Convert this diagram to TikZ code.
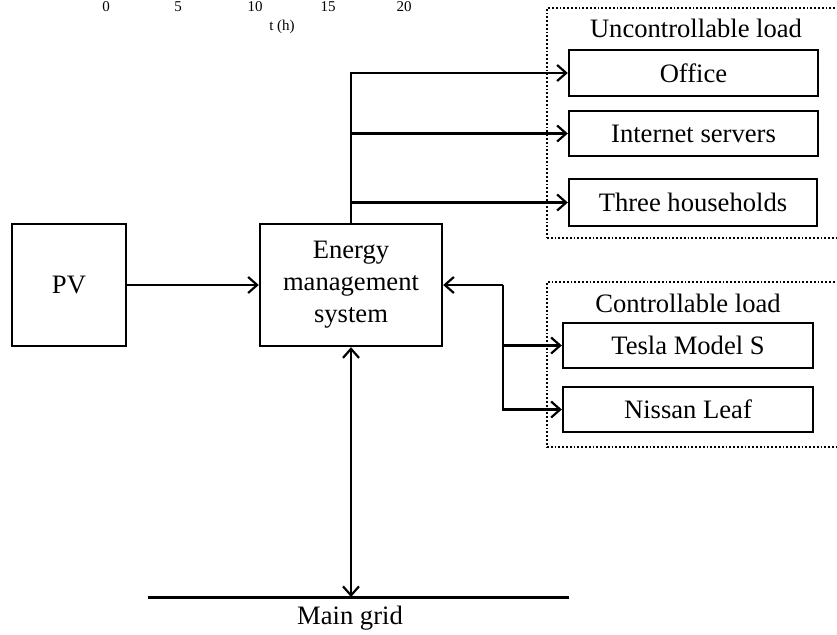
\documentclass[tikz,border=0pt]{standalone}
\usepackage{fontspec}
\setmainfont{Liberation Serif}
\usepackage{tikz}
\usetikzlibrary{arrows.meta,positioning,calc}

\begin{document}
\begin{tikzpicture}[x=0.5pt,y=-0.5pt,
  box/.style={draw,line width=1.2pt,inner sep=0pt,align=center,font=\fontsize{13.3}{16}\selectfont},
  frame/.style={draw,line width=0.9pt,densely dotted,inner sep=0pt},
  lbl/.style={font=\fontsize{13.3}{16}\selectfont},
  tick/.style={anchor=base,font=\fontsize{7.5}{9}\selectfont},
  conn/.style={line width=1.1pt,-{Straight Barb[length=4.5pt,width=8pt,line width=1.1pt]}},
  conn2/.style={line width=1.1pt,{Straight Barb[length=4.5pt,width=8pt,line width=1.1pt]}-{Straight Barb[length=4.5pt,width=8pt,line width=1.1pt]}}]
\useasboundingbox (0,0) rectangle (837,634);
% leftover axis labels
\foreach \t/\x in {0/106,5/178,10/255,15/328,20/404}{
  \node[tick] (tick\t) at (\x,11) {\t};
}
\node[tick] (taxis) at (282,30) {t (h)};
% load groups
\node[frame,minimum width=147.5pt,minimum height=115pt] (unctrl) at (694.5,123) {};
\node[frame,minimum width=147.5pt,minimum height=82.5pt] (ctrl) at (694.5,364.5) {};
\node[lbl] (unctrltitle) at (696,28) {Uncontrollable load};
\node[lbl] (ctrltitle) at (688,303) {Controllable load};
% blocks
\node[box,minimum width=57pt,minimum height=61pt] (pv) at (69,285) {PV};
\node[box,minimum width=91pt,minimum height=61pt] (ems) at (351,285) {Energy\\management\\system};
\node[box,minimum width=124.5pt,minimum height=23pt] (office) at (693.5,73) {Office};
\node[box,minimum width=124.5pt,minimum height=22.5pt] (servers) at (693.5,133.5) {Internet servers};
\node[box,minimum width=124pt,minimum height=23.5pt] (houses) at (693,202.5) {Three households};
\node[box,minimum width=125pt,minimum height=22.5pt] (tesla) at (688,345.5) {Tesla Model S};
\node[box,minimum width=125pt,minimum height=22.5pt] (leaf) at (688,409.5) {Nissan Leaf};
% main grid
\coordinate (gridl) at (148,597);
\coordinate (gridr) at (569,597);
\draw[line width=1.5pt] (gridl) -- (gridr);
\node[lbl] (gridtext) at (350,618) {Main grid};
% connectors
\draw[conn] (pv) -- (ems);
\draw[conn] (ems.north) |- (office.west);
\draw[conn] (ems.north) |- (servers.west);
\draw[conn] (ems.north) |- (houses.west);
\coordinate (jc) at (503,285);
\draw[conn] (jc) -- (ems.east);
\draw[conn] (jc) |- (tesla.west);
\draw[conn] (jc) |- (leaf.west);
\draw[conn2] (ems.south) -- (ems.south |- gridl);
\end{tikzpicture}
\end{document}
